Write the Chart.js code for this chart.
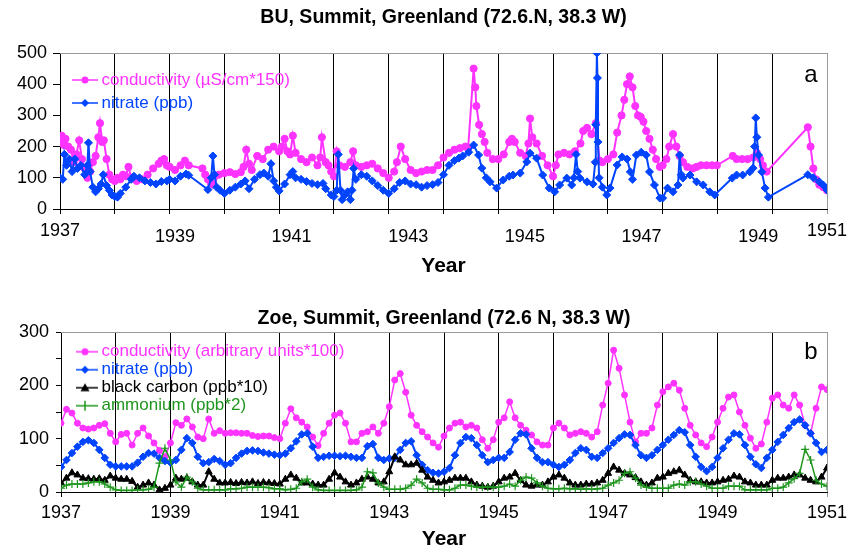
<!DOCTYPE html>
<html><head><meta charset="utf-8">
<script src="https://cdn.jsdelivr.net/npm/chart.js@4.4.1/dist/chart.umd.min.js"></script>
<style>html,body{margin:0;padding:0;background:#fff;}canvas{display:block;}</style>
</head><body>
<canvas id="ca" width="851" height="285"></canvas>
<canvas id="cb" width="851" height="265"></canvas>
<script>
// ---------- Panel a (BU core): [year, value] ----------
const aConductivity = [
[1937.00,215],[1937.03,235],[1937.07,205],[1937.10,225],[1937.15,200],[1937.20,190],[1937.25,150],[1937.30,175],[1937.35,220],[1937.40,160],[1937.45,130],[1937.50,100],[1937.55,120],[1937.60,150],[1937.65,170],[1937.70,230],[1937.73,275],[1937.77,215],[1937.80,220],[1937.85,160],[1937.90,110],[1937.95,95],
[1938.00,90],[1938.05,100],[1938.10,95],[1938.15,110],[1938.20,105],[1938.25,135],[1938.30,100],[1938.40,90],[1938.50,95],[1938.60,110],[1938.70,130],[1938.80,145],[1938.85,155],[1938.90,160],[1938.95,140],
[1939.00,135],[1939.10,125],[1939.20,140],[1939.28,155],[1939.35,140],[1939.60,130],[1939.65,110],[1939.70,95],[1939.75,85],[1939.80,78],[1939.90,110],
[1940.00,115],[1940.10,118],[1940.20,112],[1940.30,118],[1940.35,135],[1940.40,190],[1940.45,145],[1940.50,125],[1940.60,170],[1940.70,160],[1940.80,190],[1940.90,200],
[1941.00,185],[1941.05,200],[1941.10,225],[1941.15,185],[1941.20,175],[1941.25,235],[1941.30,180],[1941.40,160],[1941.50,150],[1941.60,165],[1941.70,140],[1941.75,165],[1941.78,230],[1941.85,150],[1941.90,140],[1941.95,120],
[1942.00,105],[1942.05,185],[1942.10,140],[1942.20,135],[1942.30,150],[1942.35,185],[1942.40,140],[1942.50,135],[1942.60,140],[1942.70,145],[1942.80,130],[1942.90,115],
[1943.00,100],[1943.10,120],[1943.15,150],[1943.22,200],[1943.30,160],[1943.40,125],[1943.50,115],[1943.60,120],[1943.70,125],[1943.80,125],[1943.90,140],
[1944.00,165],[1944.10,180],[1944.20,190],[1944.30,195],[1944.40,200],[1944.45,195],[1944.55,450],[1944.58,390],[1944.60,330],[1944.65,270],[1944.70,240],[1944.75,215],[1944.80,180],[1944.90,160],
[1945.00,160],[1945.10,175],[1945.20,215],[1945.25,225],[1945.30,215],[1945.40,180],[1945.50,170],[1945.55,210],[1945.58,290],[1945.62,230],[1945.70,210],[1945.80,170],[1945.90,140],
[1946.00,105],[1946.05,140],[1946.10,175],[1946.20,180],[1946.30,175],[1946.40,185],[1946.50,210],[1946.55,250],[1946.62,260],[1946.70,240],[1946.78,275],[1946.85,155],[1946.90,150],
[1947.00,160],[1947.10,175],[1947.17,245],[1947.25,300],[1947.30,350],[1947.35,400],[1947.40,425],[1947.45,390],[1947.50,330],[1947.55,300],[1947.60,295],[1947.65,280],[1947.70,250],[1947.76,225],[1947.82,190],[1947.88,160],[1947.95,135],
[1948.00,140],[1948.07,160],[1948.12,200],[1948.19,240],[1948.25,200],[1948.31,170],[1948.37,150],[1948.45,135],[1948.55,130],[1948.62,135],[1948.70,140],[1948.80,140],[1948.90,140],[1948.99,140],
[1949.28,170],[1949.35,160],[1949.45,160],[1949.55,160],[1949.65,165],[1949.72,180],[1949.78,160],[1949.83,140],[1949.90,120],
[1950.65,262],[1950.70,200],[1950.75,130],[1950.80,95],[1950.86,78],[1950.93,70],[1951.00,60]
];
const aNitrate = [
[1937.00,100],[1937.05,95],[1937.08,175],[1937.12,140],[1937.17,160],[1937.22,120],[1937.27,160],[1937.32,130],[1937.38,140],[1937.45,110],[1937.50,140],[1937.52,212],[1937.55,120],[1937.60,70],[1937.65,55],[1937.70,65],[1937.75,80],[1937.79,110],[1937.85,75],[1937.90,60],[1937.95,45],
[1938.00,40],[1938.05,38],[1938.10,50],[1938.20,70],[1938.30,95],[1938.35,105],[1938.45,100],[1938.55,90],[1938.65,85],[1938.75,80],[1938.85,88],[1938.95,90],
[1939.00,95],[1939.10,90],[1939.20,105],[1939.30,112],[1939.35,108],[1939.70,62],[1939.76,100],[1939.79,170],[1939.82,110],[1939.86,70],[1939.92,60],
[1940.00,50],[1940.10,60],[1940.20,70],[1940.30,80],[1940.38,90],[1940.45,65],[1940.55,95],[1940.65,110],[1940.72,115],[1940.80,105],[1940.85,145],[1940.90,90],[1940.95,70],
[1941.00,58],[1941.10,80],[1941.20,110],[1941.25,120],[1941.30,100],[1941.40,95],[1941.50,88],[1941.60,82],[1941.70,78],[1941.80,82],[1941.85,65],[1941.95,45],
[1942.00,40],[1942.05,60],[1942.08,175],[1942.12,60],[1942.15,30],[1942.20,45],[1942.25,55],[1942.30,30],[1942.33,60],[1942.36,130],[1942.40,95],[1942.50,110],[1942.60,105],[1942.70,90],[1942.80,75],[1942.90,60],
[1943.00,50],[1943.10,65],[1943.20,85],[1943.30,90],[1943.40,80],[1943.50,78],[1943.60,70],[1943.70,75],[1943.80,78],[1943.90,85],
[1944.00,110],[1944.10,140],[1944.20,155],[1944.28,163],[1944.35,170],[1944.46,182],[1944.55,205],[1944.64,173],[1944.70,131],[1944.78,100],[1944.85,87],[1944.97,67],
[1945.09,93],[1945.20,105],[1945.27,109],[1945.40,115],[1945.52,151],[1945.58,179],[1945.70,163],[1945.81,109],[1945.93,67],
[1946.03,55],[1946.12,77],[1946.25,99],[1946.34,77],[1946.38,100],[1946.42,175],[1946.45,120],[1946.49,99],[1946.62,87],[1946.73,80],[1946.77,150],[1946.78,270],[1946.80,500],[1946.81,420],[1946.82,215],[1946.84,100],[1946.90,70],[1946.98,45],
[1947.04,67],[1947.17,141],[1947.26,167],[1947.35,160],[1947.41,119],[1947.45,95],[1947.52,173],[1947.61,182],[1947.70,173],[1947.76,119],[1947.85,77],[1947.95,35],
[1948.00,35],[1948.09,67],[1948.19,55],[1948.28,77],[1948.31,173],[1948.34,110],[1948.37,99],[1948.50,109],[1948.62,87],[1948.74,77],[1948.86,55],[1948.95,45],
[1949.27,99],[1949.35,109],[1949.46,109],[1949.59,119],[1949.65,131],[1949.68,200],[1949.70,292],[1949.72,230],[1949.75,173],[1949.81,119],[1949.87,67],[1949.93,38],
[1950.65,110],[1950.75,100],[1950.86,87],[1950.93,77],[1951.00,61]
];
const aStaggerTicks = [1939, 1941, 1943, 1945, 1947, 1949];
const aEdgeTicks = ['1937', '1951'];

// ---------- Panel b (Zoe core) ----------
const bYears = [
1937.0,1937.1,1937.2,1937.3,1937.4,1937.5,1937.6,1937.7,1937.8,1937.9,
1938.0,1938.1,1938.2,1938.3,1938.4,1938.5,1938.6,1938.7,1938.8,1938.9,
1939.0,1939.1,1939.2,1939.3,1939.4,1939.5,1939.6,1939.7,1939.8,1939.9,
1940.0,1940.1,1940.2,1940.3,1940.4,1940.5,1940.6,1940.7,1940.8,1940.9,
1941.0,1941.1,1941.2,1941.3,1941.4,1941.5,1941.6,1941.7,1941.8,1941.9,
1942.0,1942.1,1942.2,1942.3,1942.4,1942.5,1942.6,1942.7,1942.8,1942.9,
1943.0,1943.1,1943.2,1943.3,1943.4,1943.5,1943.6,1943.7,1943.8,1943.9,
1944.0,1944.1,1944.2,1944.3,1944.4,1944.5,1944.6,1944.7,1944.8,1944.9,
1945.0,1945.1,1945.2,1945.3,1945.4,1945.5,1945.6,1945.7,1945.8,1945.9,
1946.0,1946.1,1946.2,1946.3,1946.4,1946.5,1946.6,1946.7,1946.8,1946.9,
1947.0,1947.1,1947.2,1947.3,1947.4,1947.5,1947.6,1947.7,1947.8,1947.9,
1948.0,1948.1,1948.2,1948.3,1948.4,1948.5,1948.6,1948.7,1948.8,1948.9,
1949.0,1949.1,1949.2,1949.3,1949.4,1949.5,1949.6,1949.7,1949.8,1949.9,
1950.0,1950.1,1950.2,1950.3,1950.4,1950.5,1950.6,1950.7,1950.8,1950.9,
1951.0];
const bConductivity = [
129,155,148,129,120,118,120,125,128,110,
94,108,110,88,110,120,105,92,78,66,
92,130,125,137,122,103,100,137,110,115,
110,111,111,110,110,106,104,105,105,102,
100,129,156,139,131,122,103,87,110,129,
144,148,129,94,94,110,113,122,110,129,
160,210,222,187,144,125,113,103,92,84,
105,120,129,131,122,125,120,98,82,98,
131,139,169,139,125,116,107,94,88,88,
120,129,120,107,110,113,110,103,113,163,
204,266,232,182,131,94,110,110,120,163,
188,197,204,191,157,125,107,92,85,103,
131,157,178,182,150,125,101,82,90,131,
176,182,163,157,182,163,125,110,157,197,
192];
const bNitrate = [
47,60,73,85,94,97,92,79,64,51,
48,48,48,48,55,66,73,72,64,58,
55,60,79,101,92,66,54,56,62,58,
51,54,64,72,77,78,77,74,72,70,
69,72,82,95,108,110,85,64,66,68,
68,67,68,66,64,64,86,90,64,60,
63,64,79,92,95,69,51,41,36,35,
38,45,69,92,103,101,88,69,56,60,
64,64,75,98,110,108,82,64,56,56,
51,47,51,60,73,82,79,66,64,73,
82,92,101,108,107,88,69,64,69,79,
88,98,107,116,112,88,66,47,39,47,
64,82,98,110,108,88,66,52,45,64,
79,94,107,120,131,136,125,110,92,75,
79];
const bBlackCarbon = [
17,26,36,32,26,25,24,25,22,30,
26,24,24,20,9,13,17,13,4,7,
13,26,24,26,19,13,13,38,24,17,
17,18,16,18,17,19,16,18,17,16,
15,24,32,26,17,17,15,13,13,24,
36,28,19,13,17,24,28,24,17,19,
38,66,60,51,51,54,41,28,22,17,
19,22,26,26,26,19,13,11,9,11,
19,26,28,35,22,13,11,13,13,19,
28,32,26,17,13,13,15,15,17,22,
35,47,41,35,32,27,19,13,17,26,
28,35,38,41,32,22,19,19,17,17,
19,22,24,30,28,19,17,13,13,13,
22,26,26,28,32,32,26,22,19,28,
45];
const bAmmonium = [
7,13,15,15,15,17,19,19,15,9,
4,3,3,3,4,4,5,9,54,82,
60,19,9,28,19,7,4,4,4,4,
4,6,6,7,9,9,9,9,8,6,
6,4,5,7,19,24,9,4,3,3,
3,3,3,3,4,9,38,36,17,9,
5,5,5,7,13,24,17,7,5,5,
4,4,7,13,13,11,9,9,9,9,
9,11,15,11,22,28,26,17,11,7,
6,6,7,6,6,5,6,5,6,7,
13,17,22,35,38,26,13,9,7,7,
7,7,13,15,13,19,19,15,11,7,
7,7,11,11,11,4,4,4,4,4,
7,7,9,17,25,35,80,60,22,15,
11];
const bOddTicks = [1937, 1939, 1941, 1943, 1945, 1947, 1949, 1951];

// ---------- styling ----------
const MAG = '#FF33FF', BLU = '#0044FF', BLK = '#000000', GRN = '#1E961E';
const FONT = "'Liberation Sans', Arial, Helvetica, sans-serif";
Chart.defaults.font.family = FONT;
Chart.defaults.color = '#000';

const pairs = arr => arr.map(p => ({x: p[0], y: p[1]}));
const onGrid = (xs, vals) => xs.map((x, i) => ({x: x, y: vals[i]}));

function markerImg(color, style) {
  const c = document.createElement('canvas');
  c.width = 26; c.height = 14;
  const g = c.getContext('2d');
  g.strokeStyle = color; g.fillStyle = color; g.lineWidth = 1.5;
  g.beginPath(); g.moveTo(0, 7); g.lineTo(26, 7); g.stroke();
  g.beginPath();
  if (style === 'circle') { g.arc(13, 7, 3.5, 0, Math.PI * 2); g.fill(); }
  else if (style === 'diamond') { g.moveTo(13, 3); g.lineTo(17, 7); g.lineTo(13, 11); g.lineTo(9, 7); g.closePath(); g.fill(); }
  else if (style === 'triangle') { g.moveTo(13, 2.5); g.lineTo(17.5, 10.5); g.lineTo(8.5, 10.5); g.closePath(); g.fill(); }
  else if (style === 'cross') { g.moveTo(13, 2); g.lineTo(13, 12); g.stroke(); }
  return c;
}

const framePlugin = {
  id: 'frame',
  beforeDatasetsDraw(chart) {
    const {ctx, chartArea: a} = chart;
    ctx.save();
    ctx.strokeStyle = '#9a9a9a'; ctx.lineWidth = 1;
    ctx.beginPath();
    ctx.moveTo(a.left, a.top + 0.5); ctx.lineTo(a.right + 0.5, a.top + 0.5); ctx.lineTo(a.right + 0.5, a.bottom);
    ctx.stroke();
    ctx.restore();
  }
};
const letterPlugin = {
  id: 'panelLetter',
  afterDraw(chart, args, opts) {
    const {ctx, chartArea: a} = chart;
    ctx.save();
    ctx.font = "24px " + FONT; ctx.fillStyle = '#000';
    ctx.textAlign = 'center'; ctx.textBaseline = 'alphabetic';
    ctx.fillText(opts.text, a.right + opts.dx, a.top + opts.dy);
    ctx.restore();
  }
};
const legendPlacer = {
  id: 'legendPlacer',
  afterLayout(chart, args, opts) {
    const lg = chart.legend; if (!lg) return;
    const a = chart.chartArea;
    lg.left = a.left + opts.dx; lg.top = a.top + opts.dy;
    lg.right = lg.left + lg.width; lg.bottom = lg.top + lg.height;
  }
};
const legendLabels = chart => chart.data.datasets.map((ds, i) => ({
  text: ds.label, fontColor: ds.borderColor, pointStyle: ds.legendImg,
  datasetIndex: i, hidden: false, lineWidth: 0, strokeStyle: 'rgba(0,0,0,0)', fillStyle: 'rgba(0,0,0,0)'
}));
const gridColor = c => (c.tick && c.tick.value === 1951) ? '#9a9a9a' : '#000';
const noPad = s => { s.paddingLeft = 0; s.paddingRight = 0; s.paddingTop = 0; s.paddingBottom = 0; };

// ---------- Chart a ----------
new Chart(document.getElementById('ca'), {
  type: 'line',
  data: { datasets: [
    { label: 'conductivity (µS/cm*150)', data: pairs(aConductivity), xAxisID: 'x', yAxisID: 'y',
      borderColor: MAG, backgroundColor: MAG, borderWidth: 2, pointStyle: 'circle', pointRadius: 3.6, pointBorderWidth: 1,
      order: 1, legendImg: markerImg(MAG, 'circle') },
    { label: 'nitrate (ppb)', data: pairs(aNitrate), xAxisID: 'x', yAxisID: 'y',
      borderColor: BLU, backgroundColor: BLU, borderWidth: 2, pointStyle: 'rectRot', pointRadius: 4, pointBorderWidth: 1,
      order: 0, legendImg: markerImg(BLU, 'diamond') }
  ]},
  options: {
    responsive: false, animation: false, events: [],
    layout: { padding: {left: 0, right: 24, top: 0, bottom: 0}, autoPadding: false },
    plugins: {
      title: { display: true, fullSize: false, text: 'BU, Summit, Greenland (72.6.N, 38.3 W)', color: '#000',
               font: {size: 19.5, weight: 'bold', lineHeight: 1.2}, padding: {top: 6, bottom: 23.6} },
      legend: { position: 'chartArea', align: 'start',
                labels: { usePointStyle: true, pointStyleWidth: 16, padding: 6, font: {size: 17}, generateLabels: legendLabels } },
      tooltip: { enabled: false },
      legendPlacer: { dx: 11, dy: 12.5 },
      panelLetter: { text: 'a', dx: -16, dy: 29 }
    },
    scales: {
      x: { type: 'linear', position: 'bottom', min: 1937, max: 1951, weight: 0,
           ticks: { stepSize: 1, autoSkip: false, maxRotation: 0, padding: 0, font: {size: 1}, callback: () => '' },
           grid: { color: gridColor, lineWidth: 1, tickLength: 5 },
           border: { color: '#000', width: 1 },
           afterFit: s => { s.height = 5; noPad(s); } },
      x2: { type: 'linear', position: 'bottom', min: 1937.03, max: 1950.18, weight: 1,
            afterBuildTicks: s => {
              s.ticks = [{value: s.min, text: aEdgeTicks[0]}]
                .concat(aStaggerTicks.map(v => ({value: v, text: String(v)})))
                .concat([{value: s.max, text: aEdgeTicks[1]}]);
            },
            ticks: { autoSkip: false, maxRotation: 0, padding: 12.2, color: '#000',
                     font: c => ({size: 18, lineHeight: (c.tick && aEdgeTicks.includes(c.tick.text)) ? 0.5 : 1.2}),
                     callback: (v, i, t) => t[i].text },
            grid: { display: false, drawTicks: false, tickLength: 0 },
            border: { display: false },
            title: { display: true, text: 'Year', color: '#000', font: {size: 21, weight: 'bold', lineHeight: 1}, padding: {top: 0, bottom: 8.5} },
            afterFit: s => { s.height = 71; noPad(s); } },
      y: { type: 'linear', min: 0, max: 500,
           ticks: { stepSize: 50, padding: 6, font: {size: 18}, color: '#000', callback: v => v % 100 === 0 ? String(v) : '' },
           grid: { drawOnChartArea: false, color: '#000', tickLength: 7 },
           border: { color: '#000', width: 1 },
           afterFit: s => { s.width = 60; noPad(s); } }
    }
  },
  plugins: [framePlugin, letterPlugin, legendPlacer]
});

// ---------- Chart b ----------
new Chart(document.getElementById('cb'), {
  type: 'line',
  data: { datasets: [
    { label: 'conductivity (arbitrary units*100)', data: onGrid(bYears, bConductivity),
      borderColor: MAG, backgroundColor: MAG, borderWidth: 1.5, pointStyle: 'circle', pointRadius: 3, pointBorderWidth: 1,
      order: 3, legendImg: markerImg(MAG, 'circle') },
    { label: 'nitrate (ppb)', data: onGrid(bYears, bNitrate),
      borderColor: BLU, backgroundColor: BLU, borderWidth: 2, pointStyle: 'rectRot', pointRadius: 3.8, pointBorderWidth: 1,
      order: 2, legendImg: markerImg(BLU, 'diamond') },
    { label: 'black carbon (ppb*10)', data: onGrid(bYears, bBlackCarbon),
      borderColor: BLK, backgroundColor: BLK, borderWidth: 2, pointStyle: 'triangle', pointRadius: 4, pointBorderWidth: 1,
      order: 1, legendImg: markerImg(BLK, 'triangle') },
    { label: 'ammonium (ppb*2)', data: onGrid(bYears, bAmmonium),
      borderColor: GRN, backgroundColor: GRN, borderWidth: 1.5, pointStyle: 'cross', pointRadius: 4, pointBorderWidth: 1.2,
      order: 0, legendImg: markerImg(GRN, 'cross') }
  ]},
  options: {
    responsive: false, animation: false, events: [],
    layout: { padding: {left: 0, right: 24, top: 0, bottom: 0}, autoPadding: false },
    plugins: {
      title: { display: true, fullSize: false, text: 'Zoe, Summit, Greenland (72.6 N, 38.3 W)', color: '#000',
               font: {size: 19.5, weight: 'bold', lineHeight: 1.2}, padding: {top: 22, bottom: 1.6} },
      legend: { position: 'chartArea', align: 'start',
                labels: { usePointStyle: true, pointStyleWidth: 16, padding: 1, font: {size: 17}, generateLabels: legendLabels } },
      tooltip: { enabled: false },
      legendPlacer: { dx: 15, dy: 10.2 },
      panelLetter: { text: 'b', dx: -16, dy: 27 }
    },
    scales: {
      x: { type: 'linear', position: 'bottom', min: 1937, max: 1951,
           ticks: { stepSize: 1, autoSkip: false, maxRotation: 0, padding: 5, font: {size: 18}, color: '#000',
                    callback: v => bOddTicks.includes(v) ? String(v) : '' },
           grid: { color: gridColor, lineWidth: 1, tickLength: 5 },
           border: { color: '#000', width: 1 },
           title: { display: true, text: 'Year', color: '#000', font: {size: 21, weight: 'bold', lineHeight: 1}, padding: {top: 0, bottom: 0} },
           afterFit: s => { s.height = 58; noPad(s); } },
      y: { type: 'linear', min: 0, max: 300,
           ticks: { stepSize: 50, padding: 7, font: {size: 18}, color: '#000', callback: v => v % 100 === 0 ? String(v) : '' },
           grid: { drawOnChartArea: false, color: '#000', tickLength: 5 },
           border: { color: '#000', width: 1 },
           afterFit: s => { s.width = 61; noPad(s); } }
    }
  },
  plugins: [framePlugin, letterPlugin, legendPlacer]
});
</script>
</body></html>
